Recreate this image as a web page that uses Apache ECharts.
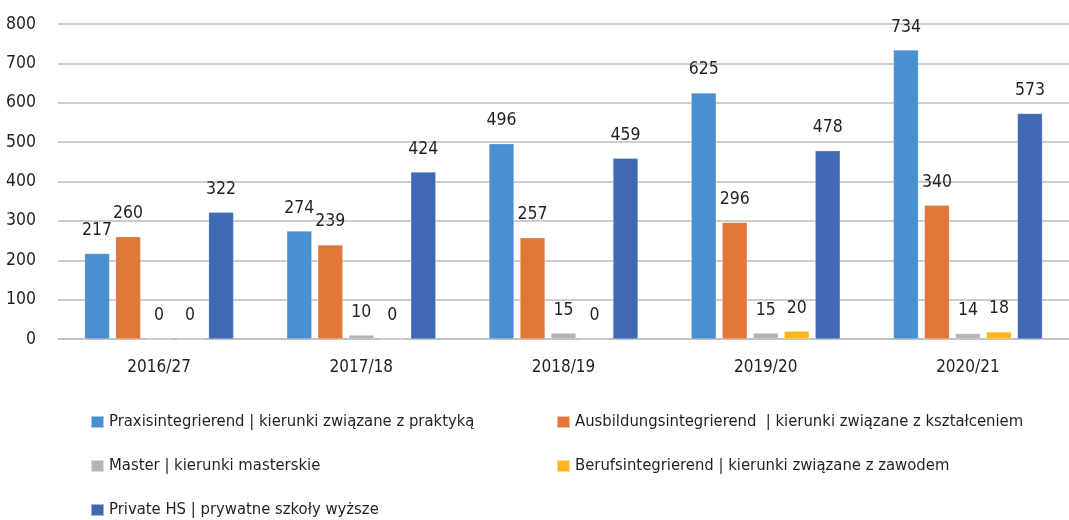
<!DOCTYPE html>
<html><head><meta charset="utf-8">
<script src="https://cdn.jsdelivr.net/npm/echarts@6/dist/echarts.min.js"></script>
<style>html,body{margin:0;padding:0;background:#fff}#c{width:1069px;height:520px}</style>
</head><body><div id="c"></div>
<script>
const categories = ['2016/27','2017/18','2018/19','2019/20','2020/21'];
const seriesNames = [
  'Praxisintegrierend | kierunki związane z praktyką',
  'Ausbildungsintegrierend  | kierunki związane z kształceniem',
  'Master | kierunki masterskie',
  'Berufsintegrierend | kierunki związane z zawodem',
  'Private HS | prywatne szkoły wyższe'
];
const praxis = [217, 274, 496, 625, 734];
const ausbildung = [260, 239, 257, 296, 340];
const master = [0, 10, 15, 15, 14];
const berufs = [0, 0, 0, 20, 18];
const privateHS = [322, 424, 459, 478, 573];
const colors = ['#4a8fcf', '#e07638', '#b5b5b5', '#fdb61c', '#4169b3'];

const FONT = '"DejaVu Sans Condensed","Liberation Sans Narrow",sans-serif';
const allData = [praxis, ausbildung, master, berufs, privateHS];
const chart = echarts.init(document.getElementById('c'));
chart.setOption({
  animation: false,
  color: colors,
  textStyle: {fontFamily: FONT},
  grid: {left: 58, right: 0, top: 24, bottom: 181, containLabel: false},
  xAxis: {
    type: 'category', data: categories,
    axisLine: {lineStyle: {color: '#bdbdbd', width: 1.5}},
    axisTick: {show: false},
    axisLabel: {fontSize: 17, color: '#231f20', margin: 20, fontFamily: FONT}
  },
  yAxis: {
    type: 'value', min: 0, max: 800, interval: 100,
    axisLine: {show: false}, axisTick: {show: false},
    splitLine: {lineStyle: {color: '#bdbdbd', width: 1.5}},
    axisLabel: {fontSize: 17.5, color: '#231f20', margin: 22, fontFamily: FONT}
  },
  legend: {
    left: 85, top: 407, width: 1000,
    itemWidth: 13, itemHeight: 12, itemGap: 24,
    icon: 'rect',
    textStyle: {fontSize: 16.5, color: '#231f20', fontFamily: FONT, width: 423, lineHeight: 20},
    data: seriesNames
  },
  series: allData.map((d, i) => ({
    name: seriesNames[i], type: 'bar', data: d,
    barWidth: 25, barGap: '24%',
    label: {show: true, position: 'top', distance: 14, fontSize: 17.5, color: '#231f20', fontFamily: FONT},
    itemStyle: {borderColor: 'rgba(255,255,255,0.5)', borderWidth: 0.5}
  }))
});
</script></body></html>
